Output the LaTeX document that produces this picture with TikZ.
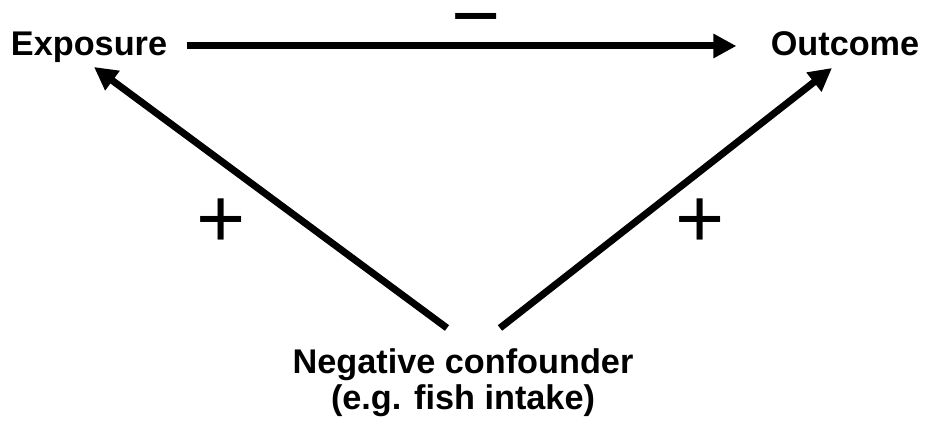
\documentclass[tikz,border=0pt]{standalone}
\usepackage{fontspec}
\setmainfont{Liberation Sans}
\usetikzlibrary{arrows.meta, positioning, calc}

\begin{document}
\begin{tikzpicture}[
  x = 0.02cm, y = -0.02cm,
  lbl/.style   = {inner sep=0pt, font=\bfseries\fontsize{19.5}{20.4}\selectfont,
                  text height=0.52cm, text depth=0.15cm},
  conf/.style  = {inner sep=0pt, align=center, font=\bfseries\fontsize{19.5}{20.4}\selectfont},
  sign/.style  = {inner sep=0pt, font=\fontsize{48}{48}\selectfont},
  arrow/.style = {-{Triangle[length=0.46cm, width=0.46cm]}, line width=0.14cm}
]
  \useasboundingbox (0,0) rectangle (927,431);

  \node[lbl]  (expo) at (89,46)   {Exposure};
  \node[lbl]  (outc) at (845,46)  {Outcome};
  \node[conf] (neg)  at (463,383) {Negative confounder\\(e.g. fish intake)};

  \node[sign, anchor=base, text height=0.7cm, text depth=0pt] (minus) at (476,45) {−};
  \node[sign] (plusL) at (221,223) {+};
  \node[sign] (plusR) at (700,223) {+};

  \coordinate (expoTip) at (94,67);
  \coordinate (outcTip) at (832,68);
  \coordinate (negL)    at (447,328);
  \coordinate (negR)    at (500,328);

  \draw[arrow, shorten <=0.4cm, shorten >=0.68cm] (expo) -- (outc);
  \draw[arrow] (negL) -- (expoTip);
  \draw[arrow] (negR) -- (outcTip);
\end{tikzpicture}
\end{document}
